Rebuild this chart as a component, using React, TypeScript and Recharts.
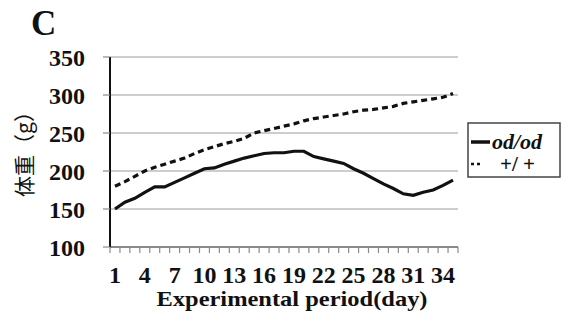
import { LineChart, Line, XAxis, YAxis, CartesianGrid } from 'recharts'

const days = Array.from({ length: 35 }, (_, i) => i + 1)

// od/od (solid)
const odod = [150, 159, 164, 172, 179, 179, 185, 191, 197, 203, 204, 209, 213, 217, 220, 223, 224, 224, 226, 226, 219, 216, 213, 210, 203, 197, 190, 183, 177, 170, 168, 172, 175, 181, 188]
// +/+ (dotted)
const wild = [180, 186, 193, 200, 205, 209, 213, 217, 223, 228, 232, 236, 239, 243, 250, 253, 256, 259, 262, 266, 269, 271, 273, 275, 278, 280, 281, 283, 285, 289, 291, 293, 295, 297, 302]

const yTicks = [100, 150, 200, 250, 300, 350]
const xLabels = [1, 4, 7, 10, 13, 16, 19, 22, 25, 28, 31, 34]
const xBounds = Array.from({ length: 36 }, (_, i) => i + 0.5)

const data = days.map((d, i) => ({ day: d, odod: odod[i], wild: wild[i] }))

const W = 564
const H = 322
const PLOT_L = 110
const PLOT_R = 458
const PLOT_B = 247
const HALF = (PLOT_R - PLOT_L) / 35 / 2
const SERIF = 'Liberation Serif'

// tick marks sit between days, labels every third day
const XTick = (props: any) => {
    const { x, payload } = props
    const v = payload.value + 0.5
    return (
        <g>
            <line x1={x} y1={PLOT_B} x2={x} y2={PLOT_B + 6} stroke="#8a8a8a" strokeWidth={1.2} />
            {xLabels.includes(v) && (
                <text x={x + HALF} y={PLOT_B + 36} textAnchor="middle" fontFamily={SERIF} fontWeight="bold" fontSize={24} fill="#111">
                    {v}
                </text>
            )}
        </g>
    )
}

export default function App() {
    return (
        <div style={{ position: 'absolute', left: 0, top: 0, width: W, height: H, background: '#fff' }}>
            <LineChart width={W} height={H} data={data} margin={{ top: 57, right: W - PLOT_R, bottom: 45, left: 0 }}>
                <CartesianGrid horizontal vertical={false} stroke="#bdbdbd" strokeWidth={1.5} />
                <XAxis
                    dataKey="day"
                    type="number"
                    domain={[0.5, 35.5]}
                    ticks={xBounds}
                    interval={0}
                    height={H - 45 - PLOT_B}
                    axisLine={{ stroke: '#8a8a8a', strokeWidth: 2 }}
                    tickLine={false}
                    tick={<XTick />}
                />
                <YAxis
                    domain={[100, 350]}
                    ticks={yTicks}
                    width={PLOT_L}
                    axisLine={{ stroke: '#111', strokeWidth: 2 }}
                    tickLine={{ stroke: '#8a8a8a', strokeWidth: 1.2 }}
                    tickSize={7}
                    tickMargin={18}
                    tick={{ fontFamily: SERIF, fontWeight: 'bold', fontSize: 24, fill: '#111' }}
                />
                <Line dataKey="wild" type="linear" stroke="#111" strokeWidth={3.2} strokeDasharray="6 4" dot={false} isAnimationActive={false} />
                <Line dataKey="odod" type="linear" stroke="#111" strokeWidth={3.2} dot={false} isAnimationActive={false} />
            </LineChart>
            <svg width={W} height={H} style={{ position: 'absolute', left: 0, top: 0, pointerEvents: 'none' }}>
                <text x={31} y={35} fontFamily={SERIF} fontWeight="bold" fontSize={35} fill="#111">C</text>
                <text
                    transform="translate(32,149) rotate(-90)"
                    textAnchor="middle"
                    fontFamily="Noto Sans CJK JP"
                    fontSize={21}
                    fill="#111"
                >
                    体重（g）
                </text>
                <text x={292} y={306} textAnchor="middle" fontFamily={SERIF} fontWeight="bold" fontSize={21} fill="#111" textLength={271} lengthAdjust="spacingAndGlyphs">
                    Experimental period(day)
                </text>
                <rect x={468} y={123} width={92} height={54} fill="#fff" stroke="#444" strokeWidth={1.5} />
                <line x1={471} y1={142} x2={490} y2={142} stroke="#111" strokeWidth={3.5} />
                <text x={492} y={149} fontFamily={SERIF} fontWeight="bold" fontStyle="italic" fontSize={22} fill="#111">od/od</text>
                <line x1={471} y1={164} x2={483} y2={164} stroke="#111" strokeWidth={2.5} strokeDasharray="3 3" />
                <text x={500} y={171} fontFamily={SERIF} fontWeight="bold" fontSize={21} fill="#111">+/ +</text>
            </svg>
        </div>
    )
}
